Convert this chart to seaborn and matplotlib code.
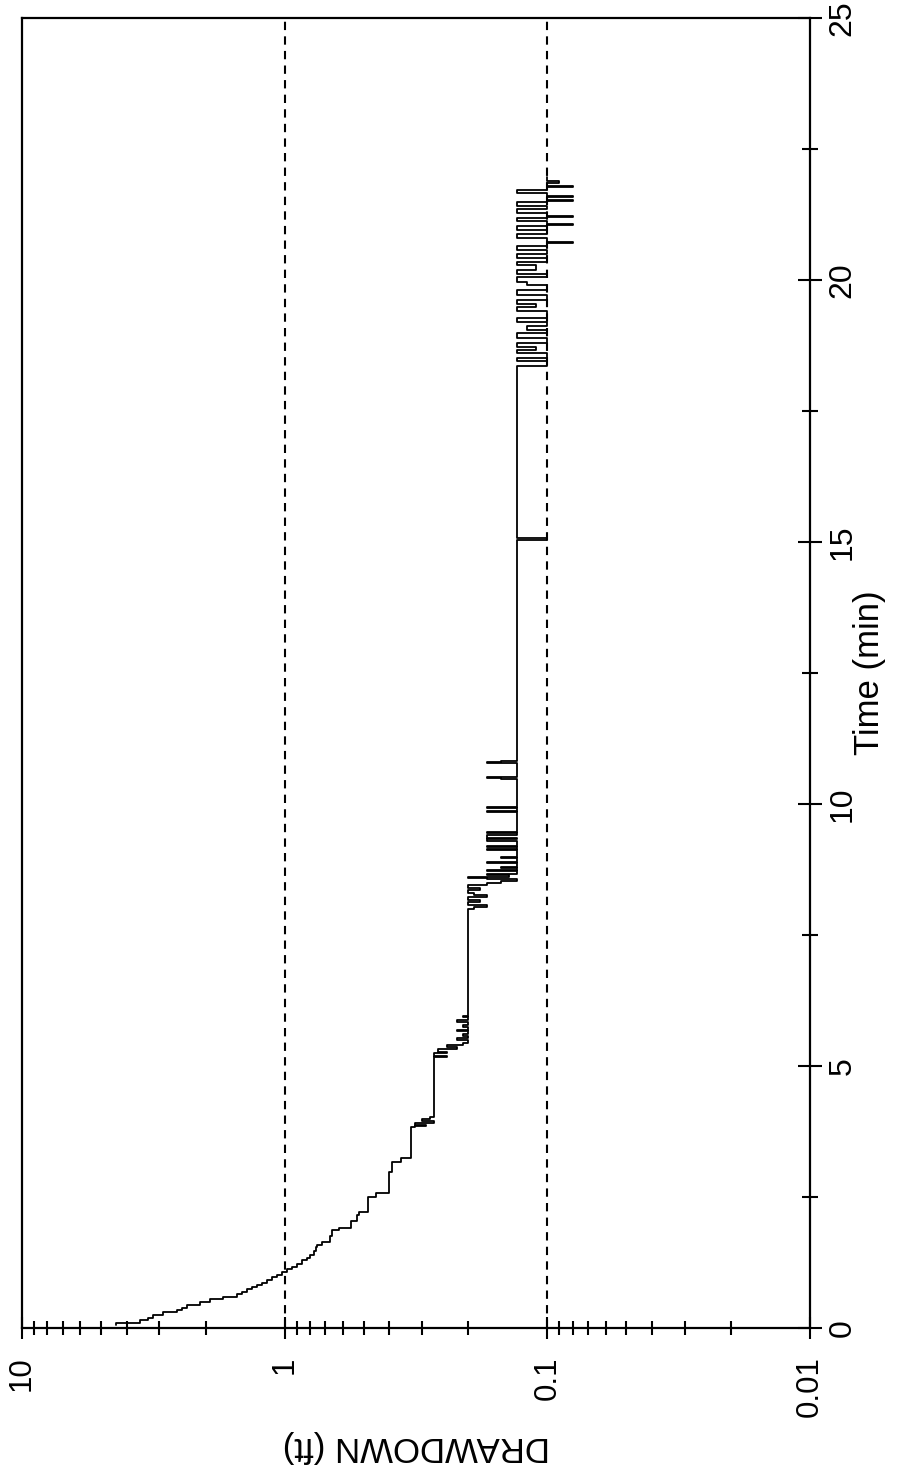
import matplotlib
matplotlib.use("Agg")
import matplotlib.pyplot as plt
import seaborn as sns
import numpy as np
import pandas as pd

# Drawdown record from the pumping test (time in minutes, drawdown in feet)
time_min = [
    0.05, 0.10, 0.15, 0.19, 0.25, 0.31, 0.35, 0.38, 0.44, 0.50,
    0.55, 0.59, 0.64, 0.69, 0.74, 0.78, 0.82, 0.86, 0.92, 0.97,
    1.02, 1.07, 1.12, 1.16, 1.23, 1.30, 1.34, 1.39, 1.47, 1.55,
    1.58, 1.64, 1.75, 1.87, 1.91, 2.05, 2.16, 2.21, 2.50, 2.58,
    2.98, 3.17, 3.24,
    3.84, 3.86, 3.88, 3.92, 3.95, 3.98, 4.03,
    5.17, 5.20, 5.24, 5.27, 5.32, 5.36, 5.40, 5.44,
    5.50, 5.53, 5.58, 5.62, 5.66, 5.69, 5.74, 5.78, 5.84, 5.88, 5.93, 5.96,
    8.00, 8.04, 8.08, 8.13, 8.17, 8.22, 8.26, 8.31, 8.36, 8.40,
    8.46, 8.50, 8.53, 8.56, 8.58, 8.61, 8.64, 8.67,
    8.72, 8.74, 8.78, 8.80, 8.87, 8.89, 8.97, 8.99, 9.12, 9.14,
    9.18, 9.20, 9.30, 9.33, 9.36, 9.40, 9.44, 9.47, 9.85, 9.87,
    9.92, 9.94, 10.48, 10.49, 10.51, 10.52, 10.78, 10.79, 10.81, 10.82,
    15.03, 15.07,
    18.35, 18.45, 18.52, 18.60, 18.66, 18.72, 18.80, 18.90, 18.98, 19.05,
    19.12, 19.20, 19.28, 19.40, 19.48, 19.55, 19.62, 19.72, 19.80, 19.90,
    19.96, 20.05, 20.12, 20.20, 20.28, 20.35, 20.42, 20.50, 20.58, 20.65,
    20.70, 20.72, 20.80, 20.88, 20.95, 21.03, 21.05, 21.07, 21.12, 21.18,
    21.20, 21.22, 21.28, 21.35, 21.42, 21.48, 21.50, 21.52, 21.58, 21.60,
    21.66, 21.72, 21.78, 21.80, 21.86, 21.88, 21.97,
]
drawdown_ft = [
    4.40, 3.56, 3.30, 3.17, 2.91, 2.57, 2.45, 2.36, 2.10, 1.93,
    1.72, 1.52, 1.45, 1.39, 1.33, 1.27, 1.22, 1.17, 1.12, 1.07,
    1.02, 0.98, 0.94, 0.90, 0.86, 0.82, 0.80, 0.77, 0.76, 0.75,
    0.72, 0.67, 0.66, 0.62, 0.56, 0.53, 0.52, 0.48, 0.45, 0.40,
    0.39, 0.36, 0.33,
    0.32, 0.29, 0.32, 0.27, 0.30, 0.28, 0.27,
    0.24, 0.27, 0.24, 0.26, 0.22, 0.24, 0.21, 0.20,
    0.22, 0.20, 0.21, 0.20, 0.22, 0.20, 0.21, 0.20, 0.22, 0.20, 0.21, 0.20,
    0.19, 0.17, 0.20, 0.18, 0.20, 0.17, 0.19, 0.20, 0.18, 0.20,
    0.17, 0.15, 0.13, 0.17, 0.20, 0.14, 0.17, 0.13,
    0.17, 0.13, 0.15, 0.13, 0.17, 0.13, 0.15, 0.13, 0.17, 0.13,
    0.17, 0.13, 0.17, 0.13, 0.17, 0.13, 0.17, 0.13, 0.17, 0.13,
    0.17, 0.13, 0.15, 0.17, 0.15, 0.13, 0.15, 0.17, 0.15, 0.13,
    0.10, 0.13,
    0.10, 0.13, 0.10, 0.13, 0.11, 0.13, 0.10, 0.13, 0.10, 0.12,
    0.10, 0.13, 0.10, 0.13, 0.11, 0.13, 0.10, 0.13, 0.10, 0.12,
    0.13, 0.10, 0.13, 0.11, 0.13, 0.10, 0.13, 0.10, 0.13, 0.10,
    0.08, 0.10, 0.13, 0.10, 0.13, 0.10, 0.08, 0.10, 0.13, 0.10,
    0.08, 0.10, 0.13, 0.10, 0.13, 0.10, 0.08, 0.10, 0.08, 0.10,
    0.13, 0.10, 0.08, 0.10, 0.09, 0.10, 0.10,
]

# Axis definitions
drawdown_ticks = [10, 1, 0.1, 0.01]
drawdown_labels = ["10", "1", "0.1", "0.01"]
time_ticks = [0, 5, 10, 15, 20, 25]
time_minor_ticks = [2.5, 7.5, 12.5, 17.5, 22.5]
ref_levels = [1, 0.1]

sns.set_style("white")
plt.rcParams["font.family"] = ["Liberation Sans", "DejaVu Sans"]
plt.rcParams["text.color"] = "black"
plt.rcParams["axes.labelcolor"] = "black"

df = pd.DataFrame({"time": time_min, "drawdown": drawdown_ft})

fig = plt.figure(figsize=(9.2, 14.68), dpi=100)
ax = fig.add_axes([22 / 920, 140 / 1468, 788 / 920, 1310 / 1468])
ax.set_xscale("log")

sns.lineplot(data=df, x="drawdown", y="time", orient="y", sort=False,
             estimator=None, drawstyle="steps-pre", color="black",
             linewidth=1.3, ax=ax)

for lvl in ref_levels:
    ax.axvline(lvl, color="black", linestyle=(0, (4, 3)), linewidth=1.5, zorder=1)

ax.set_xlim(10, 0.01)
ax.set_ylim(0, 25)

ax.set_xticks(drawdown_ticks)
ax.set_xticklabels(drawdown_labels)
ax.xaxis.set_minor_locator(matplotlib.ticker.LogLocator(base=10, subs=np.arange(2, 10)))
ax.xaxis.set_minor_formatter(matplotlib.ticker.NullFormatter())

ax.set_yticks(time_ticks)
ax.set_yticks(time_minor_ticks, minor=True)
ax.yaxis.tick_right()

ax.tick_params(axis="x", which="major", direction="inout", length=16.5, width=1.5,
               bottom=True, top=False, labelsize=22.5, pad=12, colors="black")
ax.tick_params(axis="x", which="minor", direction="inout", length=9.5, width=1.5,
               bottom=True, top=False, colors="black")
ax.tick_params(axis="y", which="major", direction="inout", length=17, width=1.5,
               right=True, left=False, labelright=True, labelleft=False,
               labelsize=23, pad=4, colors="black")
ax.tick_params(axis="y", which="minor", direction="inout", length=11.5, width=1.5,
               right=True, left=False, colors="black")

for lab in ax.get_xticklabels():
    lab.set_rotation(90)
    lab.set_va("top")
    lab.set_ha("center")
for lab in ax.get_yticklabels():
    lab.set_rotation(90)
    lab.set_va("center")
    lab.set_ha("left")

for side in ["left", "right", "top", "bottom"]:
    ax.spines[side].set_visible(True)
    ax.spines[side].set_color("black")
    ax.spines[side].set_linewidth(1.6)

ax.set_xlabel("DRAWDOWN (ft)", fontsize=25, rotation=180, color="black")
ax.xaxis.set_label_coords(0.5, -(1446 - 1328) / 1310)
ax.xaxis.label.set_va("center")

ax.yaxis.set_label_position("right")
ax.set_ylabel("Time (min)", fontsize=25, rotation=90, color="black")
ax.yaxis.set_label_coords((870 - 22) / 788, 0.5)
ax.yaxis.label.set_va("center")
ax.yaxis.label.set_ha("center")

ax.grid(False)
ax.set_facecolor("white")
fig.patch.set_facecolor("white")

fig.savefig("out.png", dpi=100, facecolor="white")
